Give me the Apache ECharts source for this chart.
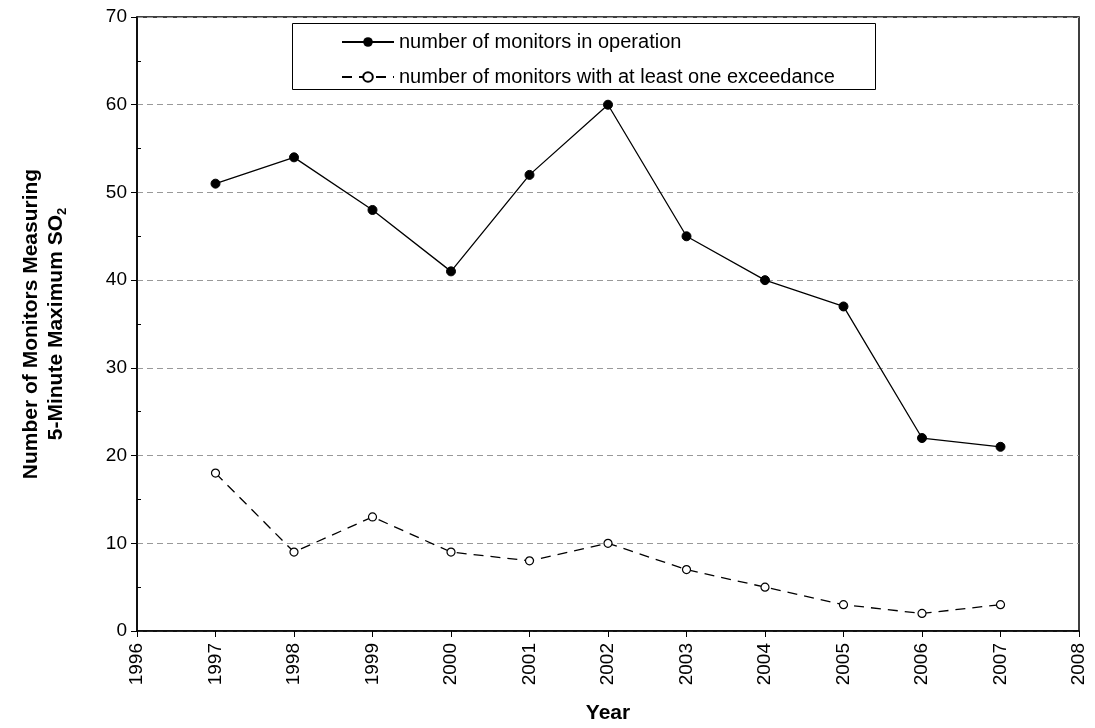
<!DOCTYPE html>
<html>
<head>
<meta charset="utf-8">
<script src="https://cdn.jsdelivr.net/npm/echarts@6/dist/echarts.min.js"></script>
<style>
html,body{margin:0;padding:0;background:#fff;}
#main{width:1095px;height:728px;}
</style>
</head>
<body>
<div id="main"></div>
<script>
// 数据
var years = [1997, 1998, 1999, 2000, 2001, 2002, 2003, 2004, 2005, 2006, 2007];
var inOperation = [51, 54, 48, 41, 52, 60, 45, 40, 37, 22, 21];
var withExceedance = [18, 9, 13, 9, 8, 10, 7, 5, 3, 2, 3];
var seriesNames = ['number of monitors in operation', 'number of monitors with at least one exceedance'];

function pairs(xs, ys) {
    var out = [];
    for (var i = 0; i < xs.length; i++) {
        out.push([xs[i], ys[i]]);
    }
    return out;
}

var chart = echarts.init(document.getElementById('main'));
var font = 'Liberation Sans, Arial, sans-serif';
var option = {
    animation: false,
    textStyle: { fontFamily: font },
    grid: {
        left: 137, right: 16, top: 17, bottom: 97,
        outerBoundsMode: 'none', containLabel: false,
        show: true, borderColor: '#000', borderWidth: 1.5, backgroundColor: 'transparent'
    },
    graphic: [{
        type: 'rect',
        left: 292, top: 23,
        shape: { width: 583, height: 66 },
        style: { fill: '#fff', stroke: '#000', lineWidth: 1 },
        z: 5
    }],
    legend: {
        orient: 'vertical',
        left: 336, top: 27,
        itemWidth: 52, itemHeight: 12, itemGap: 15,
        textStyle: { fontSize: 20, color: '#000', fontFamily: font },
        data: seriesNames,
        z: 10
    },
    xAxis: {
        type: 'value',
        min: 1996, max: 2008, interval: 1,
        name: 'Year', nameLocation: 'middle', nameGap: 72,
        nameTextStyle: { fontSize: 21, fontWeight: 'bold', color: '#000' },
        axisLine: { lineStyle: { color: '#000', width: 1.5 } },
        axisTick: { show: true, length: 6, lineStyle: { color: '#000' } },
        axisLabel: { rotate: 90, fontSize: 19, color: '#000', margin: 12, formatter: function (v) { return String(v); } },
        splitLine: { show: false }
    },
    yAxis: [{
        type: 'value',
        min: 0, max: 70, interval: 10,
        name: '{a|Number of Monitors Measuring}\n{a|5-Minute Maximum SO}{s|2}',
        nameLocation: 'middle', nameGap: 68, nameRotate: 90,
        nameTextStyle: {
            rich: {
                a: { fontSize: 21, fontWeight: 'bold', color: '#000', lineHeight: 25, fontFamily: font },
                s: { fontSize: 13, fontWeight: 'bold', color: '#000', verticalAlign: 'bottom', padding: [9, 0, 0, 0], lineHeight: 25, fontFamily: font }
            }
        },
        axisLine: { show: true, lineStyle: { color: '#000', width: 1.5 } },
        axisTick: { show: true, length: 6, lineStyle: { color: '#000' } },
        axisLabel: { fontSize: 19, color: '#000', margin: 10 },
        splitLine: { show: true, lineStyle: { color: '#999', type: [6, 4], width: 1 } }
    }, {
        type: 'value',
        position: 'left',
        min: 0, max: 70, interval: 10,
        axisLine: { show: false },
        axisTick: { show: true, inside: true, length: 0.01, lineStyle: { color: 'rgba(0,0,0,0)' } },
        minorTick: { show: true, splitNumber: 2, length: 4, lineStyle: { color: '#000' } },
        axisLabel: { show: false },
        splitLine: { show: false }
    }],
    series: [{
        name: seriesNames[0],
        type: 'line',
        data: pairs(years, inOperation),
        symbol: 'circle', symbolSize: 9,
        lineStyle: { color: '#000', width: 1.3 },
        itemStyle: { color: '#000', borderColor: '#000' },
        z: 3
    }, {
        name: seriesNames[1],
        type: 'line',
        data: pairs(years, withExceedance),
        symbol: 'circle', symbolSize: 8,
        lineStyle: { color: '#000', width: 1.3, type: [10, 7] },
        itemStyle: { color: '#fff', borderColor: '#000', borderWidth: 1.2 },
        z: 3
    }]
};
chart.setOption(option);
</script>
</body>
</html>
